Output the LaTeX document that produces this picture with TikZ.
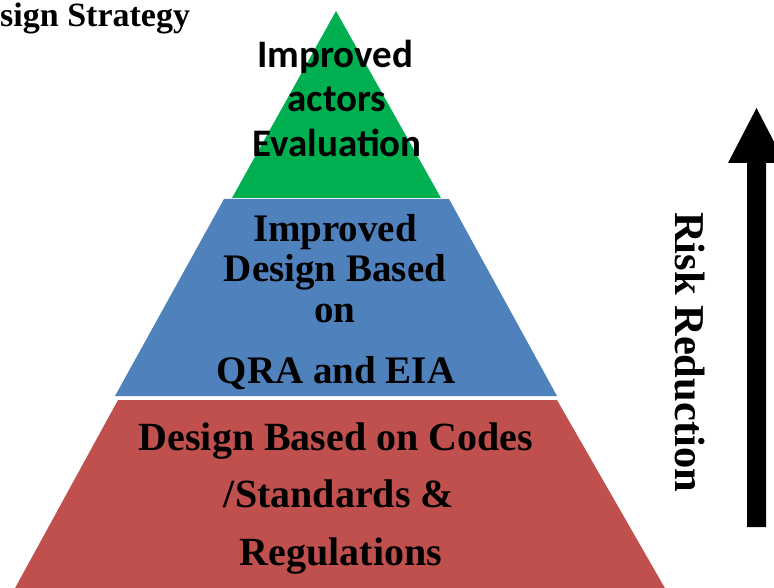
\documentclass[tikz,border=0pt]{standalone}
\usepackage{fontspec}
\setmainfont{Liberation Serif}
\newfontfamily\calfont{Carlito}
\definecolor{tiergreen}{RGB}{0,176,80}
\definecolor{tierblue}{RGB}{79,129,189}
\definecolor{tierred}{RGB}{192,80,77}
\begin{document}
\begin{tikzpicture}[x=1pt,y=-1pt,
  lbl/.style={inner sep=0pt,anchor=base,text=black},
  serifbold/.style={font=\fontsize{39}{45}\selectfont\bfseries},
  redtxt/.style={font=\fontsize{40}{46}\selectfont\bfseries},
  greentxt/.style={font=\calfont\fontsize{39}{45}\selectfont\bfseries}]
\useasboundingbox (0,0) rectangle (774,588);

% pyramid tiers
\fill[tierred] (118,400) -- (557,400) -- (666,590) -- (14,590) -- cycle;
\fill[tierblue] (224,199) -- (449,199) -- (557,396) -- (115,396) -- cycle;
\fill[tiergreen] (336,11) -- (441,198) -- (232,198) -- cycle;

% title
\node[inner sep=0pt,anchor=base west,font=\fontsize{34}{39}\selectfont\bfseries] (title) at (0,27) {sign Strategy};

% top tier
\node[lbl,greentxt] (g1) at (335,68) {Improved};
\node[lbl,greentxt] (g2) at (337,112) {actors};
\node[lbl,greentxt] (g3) at (337,157) {Evaluation};

% middle tier
\node[lbl,serifbold] (b1) at (335,242) {Improved};
\node[lbl,serifbold] (b2) at (335,282) {Design Based};
\node[lbl,serifbold] (b3) at (335,322) {on};
\node[lbl,serifbold] (b4) at (336,383) {QRA and EIA};

% bottom tier
\node[lbl,redtxt] (r1) at (336,450) {Design Based on Codes};
\node[lbl,redtxt] (r2) at (339,507) {/Standards \&};
\node[lbl,redtxt] (r3) at (341,565) {Regulations};

% risk reduction label and arrow
\node[lbl,rotate=-90,font=\fontsize{42.5}{48}\selectfont\bfseries] (risk) at (675,352) {Risk Reduction};
\fill[black] (747,527) -- (747,163) -- (728,163) -- (756.5,108) -- (785,163) -- (766,163) -- (766,527) -- cycle;
\end{tikzpicture}
\end{document}
